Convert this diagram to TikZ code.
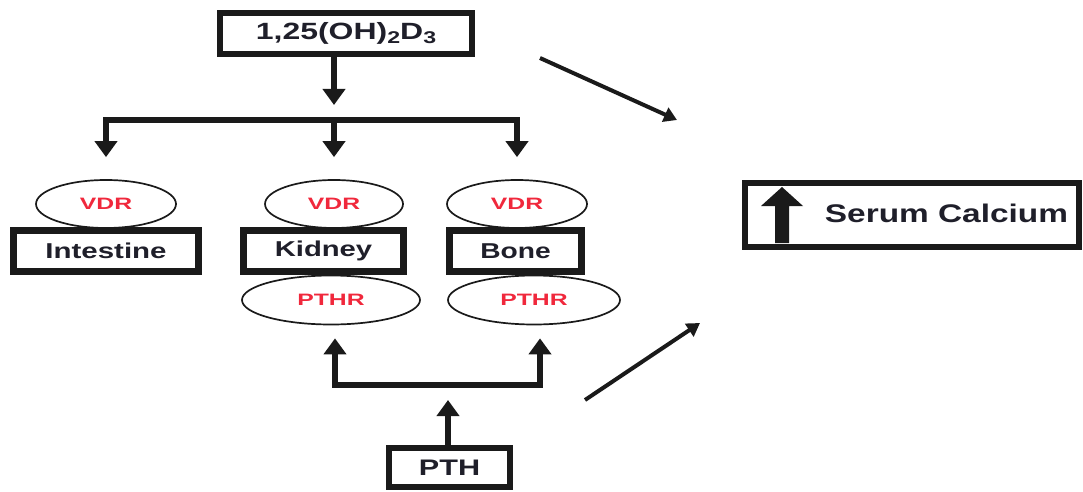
\documentclass[tikz,border=0pt]{standalone}
\usepackage{fontspec}
\setmainfont{Liberation Sans}
\usepackage{graphicx}
\usetikzlibrary{arrows.meta,shapes.geometric}
\definecolor{ink}{HTML}{1F1F2A}
\definecolor{lineblk}{HTML}{1A1A1A}
\definecolor{rred}{HTML}{F0283C}
\newcommand{\sx}[2]{\scalebox{#1}[1]{#2}}
\tikzset{
  box/.style={draw=lineblk, line width=6.5pt, fill=white, inner sep=0pt, text=ink,
    font=\bfseries\fontsize{21.5}{24}\selectfont},
  rec/.style={draw=lineblk, line width=1.7pt, ellipse, inner sep=0pt, text=rred,
    font=\bfseries\fontsize{16.5}{18}\selectfont},
  bar/.style={draw=lineblk, line width=5.5pt},
  arr/.style={draw=lineblk, line width=5.5pt, -{Triangle[width=22pt,length=16pt]}},
  darr/.style={draw=lineblk, line width=4pt, -{Triangle[width=15pt,length=13pt]}},
}
\begin{document}
\begin{tikzpicture}[x={(1pt,0)}, y={(0,-1pt)}]
\useasboundingbox (0,0) rectangle (1083,492);
% receptors
\node[rec, minimum width=140, minimum height=48] (intvdr) at (106,204) {\sx{1.5}{VDR}};
\node[rec, minimum width=138, minimum height=48] (kidvdr) at (334,204) {\sx{1.5}{VDR}};
\node[rec, minimum width=140, minimum height=48] (bonevdr) at (517,204) {\sx{1.5}{VDR}};
\node[rec, minimum width=178, minimum height=49] (kidpthr) at (331,300) {\sx{1.5}{PTHR}};
\node[rec, minimum width=172, minimum height=49] (bonepthr) at (534,300) {\sx{1.5}{PTHR}};
% boxes
\node[box, minimum width=252, minimum height=41, font=\bfseries\fontsize{23.5}{26}\selectfont] (top) at (346,33.5)
  {\sx{1.36}{1,25(OH){\fontsize{17}{17}\selectfont\raisebox{-4pt}{2}}D{\fontsize{17}{17}\selectfont\raisebox{-4pt}{3}}}};
\node[box, minimum width=185, minimum height=41] (int) at (106,251) {\sx{1.37}{Intestine}};
\node[box, minimum width=160, minimum height=41] (kid) at (323.5,251) {\sx{1.36}{Kidney}};
\node[box, minimum width=132, minimum height=41] (bone) at (515.5,251) {\sx{1.31}{Bone}};
\node[box, minimum width=121, minimum height=39, font=\bfseries\fontsize{22.5}{24}\selectfont] (pth) at (449.5,467.5) {\sx{1.36}{PTH}};
\node[box, minimum width=334, minimum height=64] (serum) at (912,215) {};
\node[text=ink, inner sep=0pt, font=\bfseries\fontsize{25.5}{28}\selectfont] (serumtxt) at (946.5,213) {\sx{1.31}{Serum Calcium}};
\fill[lineblk] (761,206) -- (782,187) -- (803,206) -- (789,206) -- (789,243) -- (775,243) -- (775,206) -- cycle;
% vitamin D branch
\coordinate (hM) at (334,120);
\coordinate (hL) at (106,120);
\coordinate (hR) at (517,120);
\draw[arr, shorten >=15pt] (top.south -| hM) -- (hM);
\draw[bar] ([xshift=-2.75pt]hL) -- ([xshift=2.75pt]hR);
\draw[arr, shorten >=22pt] (hL) -- (intvdr.north);
\draw[arr, shorten >=22pt] (hM) -- (kidvdr.north);
\draw[arr, shorten >=22pt] (hR) -- (bonevdr.north);
% PTH branch
\coordinate (pM) at (448,385);
\coordinate (pL) at (335,385);
\coordinate (pR) at (540,385);
\draw[arr, shorten >=15pt] (pth.north -| pM) -- (pM);
\draw[bar] ([xshift=-2.75pt]pL) -- ([xshift=2.75pt]pR);
\draw[arr, shorten >=13pt] (pL) -- (pL |- kidpthr.south);
\draw[arr, shorten >=13pt] (pR) -- (pR |- bonepthr.south);
% to serum calcium
\coordinate (d1s) at (540,58);
\coordinate (d1e) at (677,120);
\coordinate (d2s) at (585,400);
\coordinate (d2e) at (700,323);
\draw[darr] (d1s) -- (d1e);
\draw[darr] (d2s) -- (d2e);
\end{tikzpicture}
\end{document}
